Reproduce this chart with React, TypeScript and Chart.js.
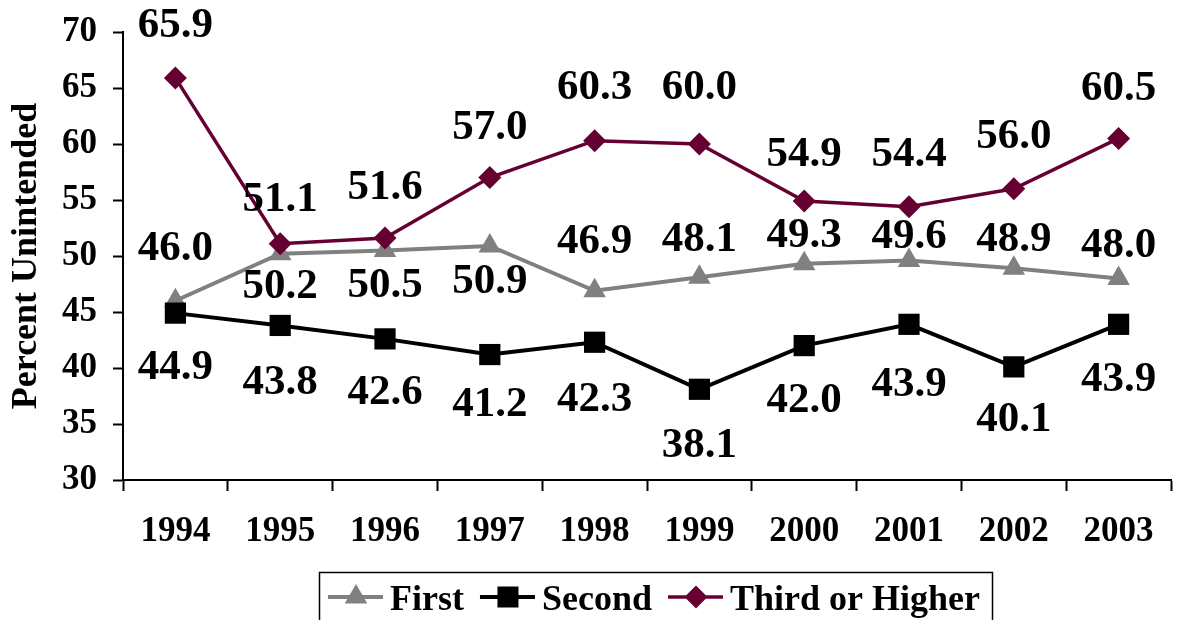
import React, { useEffect, useRef } from "react";
import { Chart, registerables } from "chart.js";

Chart.register(...registerables);

const years = ["1994", "1995", "1996", "1997", "1998", "1999", "2000", "2001", "2002", "2003"];
const firstBirth = [46.0, 50.2, 50.5, 50.9, 46.9, 48.1, 49.3, 49.6, 48.9, 48.0];
const secondBirth = [44.9, 43.8, 42.6, 41.2, 42.3, 38.1, 42.0, 43.9, 40.1, 43.9];
const thirdBirth = [65.9, 51.1, 51.6, 57.0, 60.3, 60.0, 54.9, 54.4, 56.0, 60.5];

// vertical offsets (px) of each data label from its point
const firstLabelOffsets = [-52, 33, 35, 36, -49, -37, -28, -24, -28, -33];
const secondLabelOffsets = [55, 57, 54, 50, 58, 57, 55, 61, 53, 56];
const thirdLabelOffsets = [-52, -44, -50, -50, -53, -56, -46, -52, -52, -50];

const GRAY = "#808080";
const BLACK = "#000000";
const MAROON = "#660033";
const FONT = "'Liberation Serif', 'Times New Roman', serif";

const labelPlugin = {
  id: "valueLabels",
  afterDatasetsDraw(chart: any) {
    const ctx = chart.ctx;
    ctx.save();
    ctx.font = `bold 43px ${FONT}`;
    ctx.fillStyle = "#000";
    ctx.textAlign = "center";
    ctx.textBaseline = "middle";
    chart.data.datasets.forEach((ds: any, di: number) => {
      const meta = chart.getDatasetMeta(di);
      const offs: number[] = ds.labelOffsets;
      meta.data.forEach((pt: any, i: number) => {
        const v = ds.data[i] as number;
        ctx.fillText(v.toFixed(1), pt.x, pt.y + offs[i]);
      });
    });
    ctx.restore();
  },
};

function drawMarker(ctx: CanvasRenderingContext2D, style: string, x: number, y: number, color: string) {
  ctx.fillStyle = color;
  ctx.beginPath();
  if (style === "triangle") {
    const r = 13;
    ctx.moveTo(x, y - r);
    ctx.lineTo(x + r * Math.sin(Math.PI / 3), y + r / 2);
    ctx.lineTo(x - r * Math.sin(Math.PI / 3), y + r / 2);
  } else if (style === "rect") {
    const s = 10.5;
    ctx.rect(x - s, y - s, 2 * s, 2 * s);
  } else {
    const r = 11.5;
    ctx.moveTo(x - r, y);
    ctx.lineTo(x, y - r);
    ctx.lineTo(x + r, y);
    ctx.lineTo(x, y + r);
  }
  ctx.closePath();
  ctx.fill();
}

const legendPlugin = {
  id: "boxLegend",
  afterDraw(chart: any) {
    const ctx: CanvasRenderingContext2D = chart.ctx;
    ctx.save();
    ctx.strokeStyle = "#000";
    ctx.lineWidth = 1.5;
    ctx.strokeRect(319.5, 572.5, 673, 80);
    ctx.font = `bold 36px ${FONT}`;
    ctx.textBaseline = "alphabetic";
    ctx.textAlign = "left";
    let x = 328;
    const lineY = 597;
    chart.data.datasets.forEach((ds: any) => {
      ctx.strokeStyle = ds.borderColor;
      ctx.lineWidth = ds.borderWidth;
      ctx.beginPath();
      ctx.moveTo(x, lineY);
      ctx.lineTo(x + 55, lineY);
      ctx.stroke();
      drawMarker(ctx, ds.pointStyle, x + 28, lineY, ds.pointBackgroundColor);
      x += 62;
      ctx.fillStyle = "#000";
      ctx.fillText(ds.label, x, 610);
      x += ctx.measureText(ds.label).width + 16;
    });
    ctx.restore();
  },
};

export default function App() {
  const ref = useRef<HTMLCanvasElement | null>(null);
  useEffect(() => {
    document.body.style.margin = "0";
    const canvas = ref.current!;
    const chart = new Chart(canvas, {
      type: "line",
      data: {
        labels: years,
        datasets: [
          {
            label: "First",
            data: firstBirth,
            borderColor: GRAY,
            backgroundColor: GRAY,
            pointBackgroundColor: GRAY,
            pointBorderColor: GRAY,
            borderWidth: 4,
            pointStyle: "triangle",
            pointRadius: 13,
            pointBorderWidth: 0,
            order: 3,
            labelOffsets: firstLabelOffsets,
          } as any,
          {
            label: "Second",
            data: secondBirth,
            borderColor: BLACK,
            backgroundColor: BLACK,
            pointBackgroundColor: BLACK,
            pointBorderColor: BLACK,
            borderWidth: 4,
            pointStyle: "rect",
            pointRadius: 15,
            pointBorderWidth: 0,
            order: 2,
            labelOffsets: secondLabelOffsets,
          } as any,
          {
            label: "Third or Higher",
            data: thirdBirth,
            borderColor: MAROON,
            backgroundColor: MAROON,
            pointBackgroundColor: MAROON,
            pointBorderColor: MAROON,
            borderWidth: 3.5,
            pointStyle: "rectRot",
            pointRadius: 11.5,
            pointBorderWidth: 0,
            order: 1,
            labelOffsets: thirdLabelOffsets,
          } as any,
        ],
      },
      options: {
        responsive: false,
        animation: false,
        layout: { padding: { top: 32, right: 0, bottom: 0, left: 0 } },
        plugins: {
          legend: { display: false },
          tooltip: { enabled: false },
        },
        elements: { line: { tension: 0 } },
        scales: {
          x: {
            offset: true,
            grid: {
              display: true,
              drawOnChartArea: false,
              drawTicks: true,
              tickLength: 11,
              tickWidth: 2,
              color: "#000",
              offset: true,
            },
            border: { display: true, color: "#000", width: 2 },
            ticks: {
              color: "#000",
              padding: 20,
              font: { family: FONT, size: 35, weight: "bold" },
              maxRotation: 0,
            },
            afterFit(scale: any) {
              scale.height = 140;
              scale.paddingLeft = 0;
              scale.paddingRight = 0;
            },
          },
          y: {
            min: 30,
            max: 70,
            grid: {
              display: true,
              drawOnChartArea: false,
              drawTicks: true,
              tickLength: 10,
              tickWidth: 2,
              color: "#000",
            },
            border: { display: true, color: "#000", width: 2 },
            ticks: {
              stepSize: 5,
              color: "#000",
              padding: 16,
              font: { family: FONT, size: 35, weight: "bold" },
            },
            title: {
              display: true,
              text: "Percent Unintended",
              color: "#000",
              padding: { top: 5, bottom: 0 },
              font: { family: FONT, size: 36, weight: "bold" },
            },
            afterFit(scale: any) {
              scale.width = 123;
              scale.paddingTop = 0;
              scale.paddingBottom = 0;
            },
          },
        },
      } as any,
      plugins: [labelPlugin, legendPlugin],
    });
    return () => chart.destroy();
  }, []);
  return (
    <div style={{ position: "absolute", left: 0, top: 0, width: 1186, height: 620 }}>
      <canvas ref={ref} width={1186} height={620} style={{ display: "block" }} />
    </div>
  );
}
